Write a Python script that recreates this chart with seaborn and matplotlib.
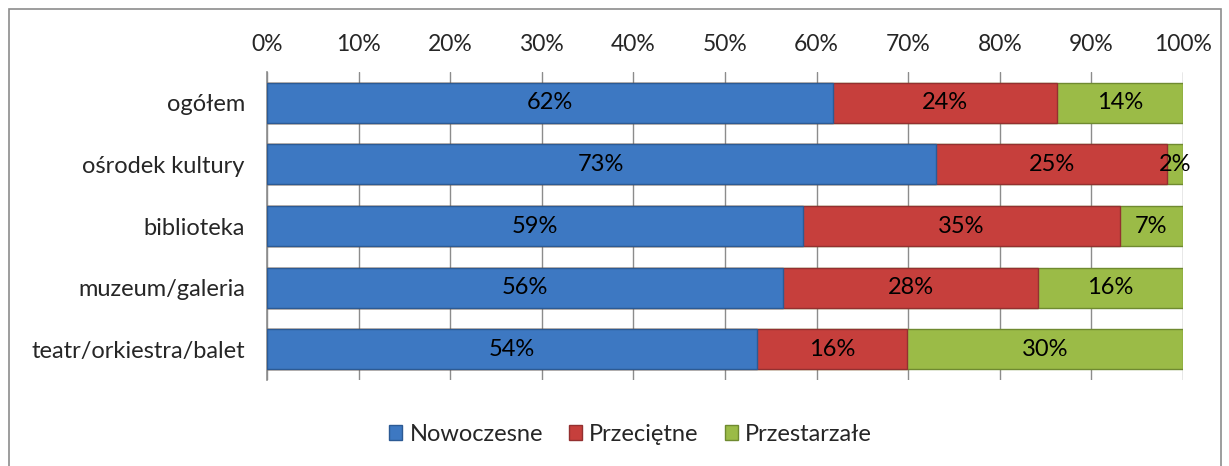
import numpy as np
import pandas as pd
import matplotlib.pyplot as plt
import seaborn as sns
from matplotlib.patches import Rectangle

# data (percent of institutions)
categories = ['ogółem', 'ośrodek kultury', 'biblioteka', 'muzeum/galeria', 'teatr/orkiestra/balet']
series = ['Nowoczesne', 'Przeciętne', 'Przestarzałe']
nowoczesne = [61.8, 73.0, 58.5, 56.3, 53.5]
przecietne = [24.4, 25.3, 34.6, 27.9, 16.4]
przestarzale = [13.8, 1.7, 6.9, 15.8, 30.1]
labels = [['62%', '73%', '59%', '56%', '54%'],
          ['24%', '25%', '35%', '28%', '16%'],
          ['14%', '2%', '7%', '16%', '30%']]
colors = ['#3d78c2', '#c63f3c', '#9bbb47']
edges = ['#2c5a94', '#933030', '#6f8a30']

sns.set_theme(style='white')
plt.rcParams['font.family'] = ['Lato', 'DejaVu Sans']

df = pd.DataFrame({'cat': categories, 'Nowoczesne': nowoczesne,
                   'Przeciętne': przecietne, 'Przestarzałe': przestarzale})
vals = df[series].to_numpy()
cum = vals.cumsum(axis=1)

fig = plt.figure(figsize=(12.29, 4.66), dpi=100)
ax = fig.add_axes([0.2173, 0.1845, 0.7453, 0.661])

# draw stacked bars: longest cumulative first, then overlay shorter ones
for i in range(len(series) - 1, -1, -1):
    d = pd.DataFrame({'cat': categories, 'v': cum[:, i]})
    sns.barplot(data=d, x='v', y='cat', orient='h', color=colors[i], ax=ax,
                width=0.65, edgecolor=edges[i], linewidth=1, saturation=1, zorder=3)

for i in range(len(series)):
    for j in range(len(categories)):
        start = cum[j, i] - vals[j, i]
        ax.text(start + vals[j, i] / 2, j, labels[i][j], ha='center', va='center',
                fontsize=17, color='black', zorder=5)

ax.set_xlim(0, 100)
ax.set_ylim(4.5, -0.5)
ax.set_xticks(np.arange(0, 101, 10))
ax.set_xticklabels([f'{t}%' for t in range(0, 101, 10)])
ax.xaxis.tick_top()
ax.tick_params(axis='x', labelsize=16.5, pad=12, length=0)
ax.tick_params(axis='y', labelsize=17, pad=16, length=0)
ax.set_xlabel('')
ax.set_ylabel('')
ax.grid(axis='x', color='#8c8c8c', linewidth=1, zorder=0)
ax.set_axisbelow(True)
for s in ['top', 'right', 'bottom']:
    ax.spines[s].set_visible(False)
ax.spines['left'].set_color('#8c8c8c')
ax.spines['left'].set_linewidth(1.2)

handles = [Rectangle((0, 0), 1, 1, facecolor=colors[i], edgecolor=edges[i]) for i in range(3)]
fig.legend(handles, series, loc='center', bbox_to_anchor=(0.513, 0.068), ncol=3,
           frameon=False, fontsize=17, handlelength=0.55, handleheight=0.55,
           handletextpad=0.3, columnspacing=1.1)

# outer chart border
fig.patches.append(Rectangle((9 / 1229, -0.05), 1212 / 1229, 1 - 9 / 466 + 0.05,
                             transform=fig.transFigure, fill=False,
                             edgecolor='#8c8c8c', linewidth=1.2))

fig.savefig('out.png', dpi=100)
